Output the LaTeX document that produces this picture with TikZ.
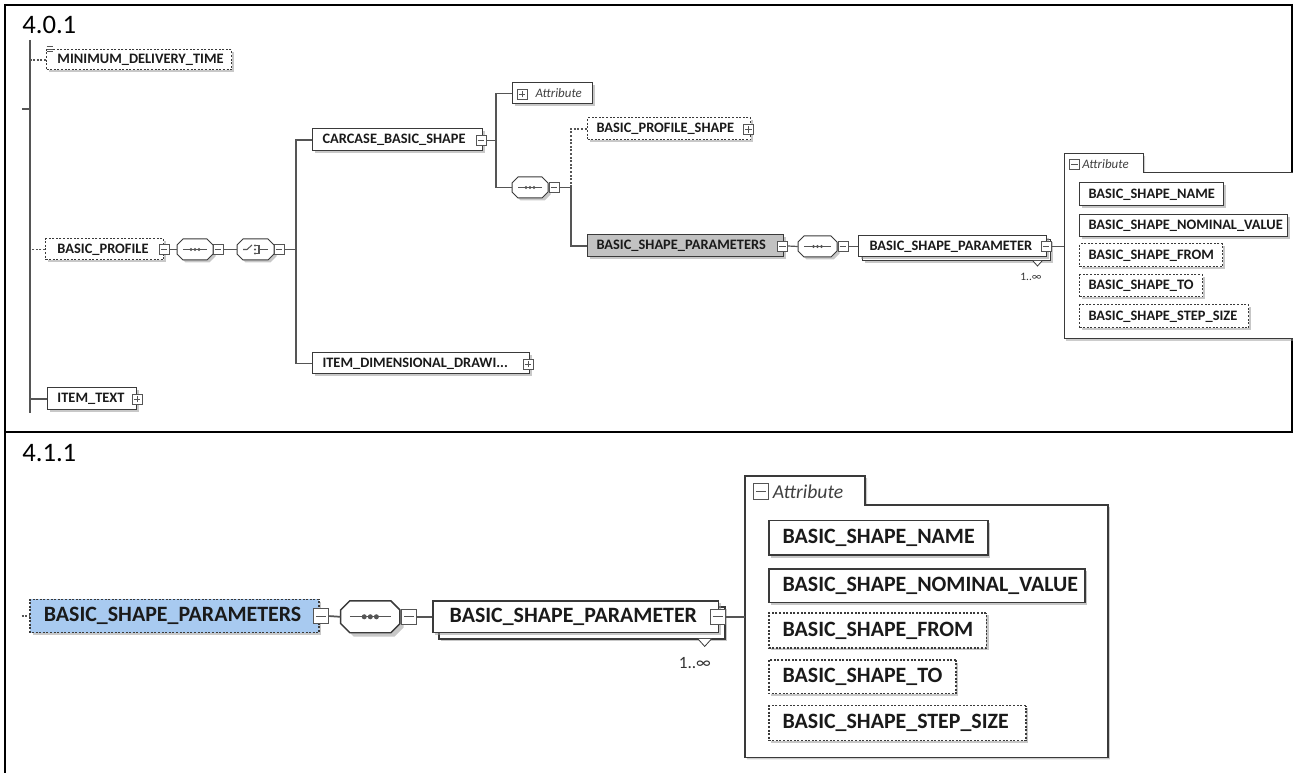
\documentclass[tikz,border=0pt]{standalone}
\usepackage{fontspec}
\setmainfont{Carlito}
\usetikzlibrary{shadows}
\definecolor{lncol}{HTML}{555555}
\definecolor{bxcol}{HTML}{3A3A3A}
\definecolor{txtcol}{HTML}{1A1A1A}
\definecolor{parsgray}{HTML}{C2C2C2}
\definecolor{parsblue}{HTML}{A8CAF0}
\definecolor{shcol}{HTML}{9A9A9A}
\tikzset{
  conn/.style={draw=lncol, line width=0.9pt},
  dconn/.style={conn, dash pattern=on 1.5pt off 1.2pt},
  frameline/.style={draw=black, line width=1.5pt},
  elem/.style={draw=bxcol, line width=0.75pt, fill=white, text=txtcol,
     font=\bfseries\fontsize{10.8}{13}\selectfont,
     drop shadow={shadow xshift=1.8pt, shadow yshift=-1.8pt, fill=shcol, opacity=0.55}},
  optelem/.style={elem, dash pattern=on 1.5pt off 1.2pt},
  graypars/.style={elem, fill=parsgray},
  bluepars/.style={optelem, fill=parsblue},
  attrbox/.style={elem, font=\itshape\fontsize{9.7}{12}\selectfont, text=black!75},
  ctrl/.style={draw=lncol, fill=white, line width=0.6pt, minimum size=7.5pt, inner sep=0pt},
  minusbox/.style={ctrl, path picture={\draw[lncol, line width=0.6pt] ([xshift=1.3pt]path picture bounding box.west) -- ([xshift=-1.3pt]path picture bounding box.east);}},
  plusbox/.style={ctrl, path picture={\draw[lncol, line width=0.6pt] ([xshift=1.3pt]path picture bounding box.west) -- ([xshift=-1.3pt]path picture bounding box.east) ([yshift=1.3pt]path picture bounding box.south) -- ([yshift=-1.3pt]path picture bounding box.north);}},
  octo/.style={draw=bxcol, line width=0.75pt, fill=white},
  octoshadow/.style={fill=shcol, opacity=0.55, draw=none},
  symline/.style={draw=lncol, line width=0.8pt},
  grpline/.style={draw=bxcol, line width=0.75pt, fill=white,
     drop shadow={shadow xshift=1.5pt, shadow yshift=-1.5pt, fill=shcol, opacity=0.5}},
  mult/.style={font=\fontsize{8.5}{10}\selectfont, text=black!80, inner sep=0pt},
  tabtext/.style={font=\itshape\fontsize{9.7}{12}\selectfont, text=black!75, inner sep=0pt},
  title/.style={font=\fontsize{20}{24}\selectfont, inner sep=0pt, anchor=base west},
}
% box: style, name, x0, x1, y0, y1, pad, text
\newcommand\xbox[8]{%
  \pgfmathsetmacro\xbTW{(#4-#3-2*#7)*0.75}%
  \pgfmathsetmacro\xbMH{(#6-#5)*0.75}%
  \pgfmathsetmacro\xbPD{#7*0.75}%
  \pgfmathsetmacro\xbYC{(#5+#6)/2}%
  \node[#1, anchor=west, inner xsep=\xbPD pt, inner ysep=0pt, text width=\xbTW pt,
        minimum height=\xbMH pt, align=left] (#2) at (#3,\xbYC) {#8};}
% octagon: name, x0, x1, y0, y1
\newcommand\octo[5]{%
  \pgfmathsetmacro\ocW{(#3-#2)*0.75}\pgfmathsetmacro\ocH{(#5-#4)*0.75}%
  \pgfmathsetmacro\ocX{(#2+#3)/2}\pgfmathsetmacro\ocY{(#4+#5)/2}%
  \fill[octoshadow] (#2+8.5,#4+2.5) -- (#3-3.5,#4+2.5) -- (#3+2.5,#4+8.5) -- (#3+2.5,#5-3.5)
     -- (#3-3.5,#5+2.5) -- (#2+8.5,#5+2.5) -- (#2+2.5,#5-3.5) -- (#2+2.5,#4+8.5) -- cycle;
  \draw[octo] (#2+6,#4) -- (#3-6,#4) -- (#3,#4+6) -- (#3,#5-6) -- (#3-6,#5) -- (#2+6,#5)
     -- (#2,#5-6) -- (#2,#4+6) -- cycle;
  \node[inner sep=0pt, minimum width=\ocW pt, minimum height=\ocH pt] (#1) at (\ocX,\ocY) {};}
\newcommand\seqsym[3]{%
  \draw[symline] (#1+6,#3) -- (#2-6,#3);
  \foreach \sdx in {-4,0,4} {\fill[lncol] ({(#1+#2)/2+\sdx},#3) circle (1.25pt);}}
\newcommand\chsym[3]{%
  \draw[symline] (#1+6,#3) -- (#1+10,#3) -- (#1+15,#3-4.5);
  \draw[symline] (#1+18,#3-4) -- (#1+22,#3-4) -- (#1+22,#3+4) -- (#1+18,#3+4);
  \draw[symline] (#1+22,#3) -- (#2-6,#3);
  \foreach \sdy in {-4,0,4} {\fill[lncol] (#1+18,#3+\sdy) circle (0.9pt);}}
% part: prefix, pars style, pars x0, container right, pars icon x
\newcommand\partB[5]{%
  \xbox{#2}{#1pars}{#3}{783}{235}{257}{9}{BASIC\_SHAPE\_PARAMETERS}
  \node[minusbox] (#1parsm) at (#5,246) {};
  \octo{#1sq}{798}{837}{236}{257}
  \seqsym{798}{837}{246.5}
  \node[minusbox] (#1sqm) at (843,246.5) {};
  \xbox{elem}{#1parb}{862}{1050}{240}{261}{0}{}
  \xbox{elem}{#1par}{858}{1046}{236}{257}{11}{BASIC\_SHAPE\_PARAMETER}
  \draw[draw=bxcol, fill=white, line width=0.6pt] (1033,261) -- (1037.5,266) -- (1042,261);
  \node[minusbox] (#1parm) at (1046,246.5) {};
  \node[mult] (#1mult) at (1031,277) {1..∞};
  \path[grpline] (1064,154) -- (1143,154) -- (1143,173) -- (#4,173) -- (#4,339) -- (1064,339) -- cycle;
  \coordinate (#1grp) at (1064,246.5);
  \node[minusbox] (#1tabm) at (1074.5,164) {};
  \node[tabtext, anchor=west] (#1tabt) at (1082,164.5) {Attribute};
  \xbox{elem}{#1a1}{1079}{1223}{183}{206}{9}{BASIC\_SHAPE\_NAME}
  \xbox{elem}{#1a2}{1079}{1287}{215}{237}{9}{BASIC\_SHAPE\_NOMINAL\_VALUE}
  \xbox{optelem}{#1a3}{1079}{1222}{244}{267}{9}{BASIC\_SHAPE\_FROM}
  \xbox{optelem}{#1a4}{1079}{1202}{275}{297}{9}{BASIC\_SHAPE\_TO}
  \xbox{optelem}{#1a5}{1079}{1248}{305}{328}{9}{BASIC\_SHAPE\_STEP\_SIZE}
  \draw[conn] (#1parsm.east) -- (#1sq.west);
  \draw[conn] (#1sqm.east) -- (#1par.west);
  \draw[conn] (#1parm.east) -- (#1grp);
}
\begin{document}
\begin{tikzpicture}[x=0.75pt, y=-0.75pt]
\useasboundingbox (0,0) rectangle (1293,773);
% frame
\draw[frameline] (5,5) -- (1293,5);
\draw[frameline] (5,4) -- (5,773);
\draw[frameline] (5,432) -- (1293,432);
\draw[frameline] (1292,4) -- (1292,432);
\node[title] (t1) at (22,34) {4.0.1};
\node[title] (t2) at (22,462) {4.1.1};
% ---------- top panel ----------
\coordinate (vtop) at (30,40);
\coordinate (vbot) at (30,413);
\coordinate (inc) at (22,109);
\xbox{optelem}{mdt}{46}{231}{50}{70}{11}{MINIMUM\_DELIVERY\_TIME}
\node[inner sep=0pt, minimum width=5pt, minimum height=4.5pt, fill=white,
  path picture={\draw[lncol, line width=0.5pt]
    ([yshift=-0.6pt]path picture bounding box.north west) -- ([yshift=-0.6pt]path picture bounding box.north east)
    (path picture bounding box.west) -- (path picture bounding box.east)
    ([yshift=0.6pt]path picture bounding box.south west) -- ([yshift=0.6pt]path picture bounding box.south east);}]
  (mdti) at (50,49) {};
\xbox{optelem}{bp}{45}{163}{239}{260}{12}{BASIC\_PROFILE}
\node[minusbox] (bpm) at (164,249.5) {};
\octo{sq1}{177}{213}{239}{260}
\seqsym{177}{213}{249.5}
\node[minusbox] (sq1m) at (218,249.5) {};
\octo{ch1}{237}{274}{239}{260}
\chsym{237}{274}{249.5}
\node[minusbox] (ch1m) at (279,249.5) {};
\xbox{elem}{carc}{312}{482}{129}{151}{10}{CARCASE\_BASIC\_SHAPE}
\node[minusbox] (carcm) at (481,140.5) {};
\xbox{attrbox}{attr}{512}{592}{83}{104}{23}{Attribute}
\node[plusbox] (attrp) at (522,94) {};
\octo{sq2}{512}{548}{177}{198}
\seqsym{512}{548}{187.5}
\node[minusbox] (sq2m) at (554,187.5) {};
\xbox{optelem}{bps}{587}{750}{118}{140}{9}{BASIC\_PROFILE\_SHAPE}
\node[plusbox] (bpsp) at (748.5,129.5) {};
\partB{T}{graypars}{587}{1310}{782.5}
\xbox{elem}{idd}{312}{529}{353}{374}{10}{ITEM\_DIMENSIONAL\_DRAWI...}
\node[plusbox] (iddp) at (528,364) {};
\xbox{elem}{itxt}{47}{136}{388}{410}{10}{ITEM\_TEXT}
\node[plusbox] (itxtp) at (137,399) {};
% connectors
\draw[conn] (vtop) -- (vbot);
\draw[conn] (inc) -- (inc -| vtop);
\draw[dconn] (mdt.west) -- (mdt.west -| vtop);
\draw[dconn] (bp.west) -- (bp.west -| vtop);
\draw[conn] (itxt.west) -- (itxt.west -| vtop);
\draw[conn] (bpm.east) -- (sq1.west);
\draw[conn] (sq1m.east) -- (ch1.west);
\coordinate (j1) at (296,249.5);
\draw[conn] (ch1m.east) -- (j1);
\draw[conn] (carc.west) -| (j1) |- (idd.west);
\coordinate (j2) at (496,140.5);
\draw[conn] (carcm.east) -- (j2);
\draw[conn] (attr.west) -| (j2) |- (sq2.west);
\coordinate (j3) at (571,187.5);
\draw[conn] (sq2m.east) -- (j3);
\draw[dconn] (j3) |- (bps.west);
\draw[conn] (j3) |- (Tpars.west);
% ---------- bottom panel ----------
\begin{scope}[shift={(-872.3,242.1)}, scale=1.52, transform shape,
   conn/.append style={line width=1.3pt},
   elem/.append style={line width=1.1pt},
   octo/.append style={line width=1.1pt},
   grpline/.append style={line width=1.1pt}]
\partB{B}{bluepars}{593}{1302.8}{785}
\coordinate (Bstub) at (588,246);
\draw[dconn] (Bstub) -- (Bpars.west);
\end{scope}
\end{tikzpicture}
\end{document}
